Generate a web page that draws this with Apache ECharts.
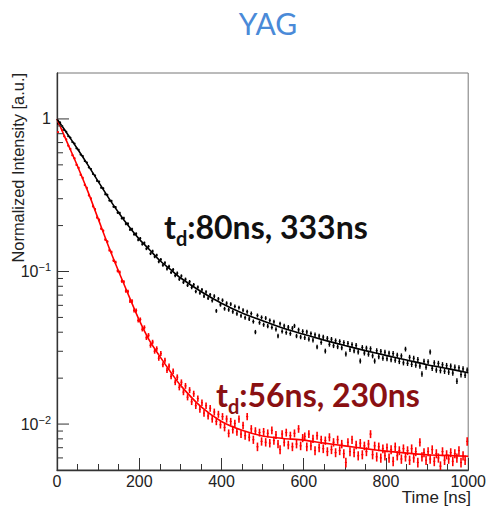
<!DOCTYPE html>
<html>
<head>
<meta charset="utf-8">
<script src="https://cdn.jsdelivr.net/npm/echarts@6/dist/echarts.min.js"></script>
<style>
  html, body { margin: 0; padding: 0; background: #fff; }
  #chart { width: 489px; height: 506px; }
</style>
</head>
<body>
<div id="chart"></div>
<script>
// Decay curves, 5 ns bins starting at t = 0
const binWidth = 5;

const blackCounts = [
  0.93, 0.95, 0.90, 0.846, 0.825, 0.770, 0.755, 0.705, 0.690, 0.641,
  0.628, 0.584, 0.571, 0.530, 0.518, 0.481, 0.470, 0.436, 0.426, 0.393,
  0.388, 0.354, 0.351, 0.321, 0.318, 0.292, 0.290, 0.266, 0.264, 0.243,
  0.242, 0.223, 0.224, 0.205, 0.206, 0.188, 0.190, 0.175, 0.177, 0.161,
  0.165, 0.151, 0.154, 0.141, 0.146, 0.131, 0.136, 0.125, 0.128, 0.116,
  0.120, 0.110, 0.114, 0.104, 0.108, 0.0985, 0.103, 0.0940, 0.0975, 0.0890,
  0.0935, 0.0850, 0.0890, 0.0812, 0.0858, 0.0785, 0.0820, 0.0740, 0.0790, 0.0722,
  0.0760, 0.0690, 0.0735, 0.0668, 0.0705, 0.0645, 0.0690, 0.0552, 0.0662, 0.0605,
  0.0648, 0.0570, 0.0620, 0.0561, 0.0612, 0.0545, 0.0590, 0.0528, 0.0580, 0.0512,
  0.0558, 0.0498, 0.0545, 0.0488, 0.0530, 0.0470, 0.0401, 0.0515, 0.0462, 0.0500,
  0.0448, 0.0495, 0.0438, 0.0478, 0.0430, 0.0468, 0.0418, 0.0378, 0.0455, 0.0405,
  0.0440, 0.0398, 0.0432, 0.0392, 0.0425, 0.0440, 0.0378, 0.0415, 0.0372, 0.0405,
  0.0368, 0.0402, 0.0360, 0.0392, 0.0355, 0.0385, 0.0320, 0.0378, 0.0343, 0.0372,
  0.0301, 0.0365, 0.0333, 0.0360, 0.0326, 0.0352, 0.0321, 0.0348, 0.0316, 0.0342,
  0.0288, 0.0338, 0.0308, 0.0332, 0.0302, 0.0328, 0.0297, 0.0259, 0.0318, 0.0292,
  0.0315, 0.0287, 0.0312, 0.0280, 0.0259, 0.0303, 0.0276, 0.0300, 0.0270, 0.0296,
  0.0268, 0.0292, 0.0264, 0.0290, 0.0262, 0.0283, 0.0257, 0.0280, 0.0252, 0.0310,
  0.0250, 0.0274, 0.0246, 0.0270, 0.0243, 0.0265, 0.0240, 0.0213, 0.0258, 0.0236,
  0.0256, 0.0297, 0.0232, 0.0252, 0.0226, 0.0250, 0.0224, 0.0245, 0.0222, 0.0242,
  0.0219, 0.0240, 0.0216, 0.0236, 0.0191, 0.0234, 0.0211, 0.0230, 0.0209, 0.0226
];

const redCounts = [
  0.82, 0.93, 0.845, 0.770, 0.735, 0.668, 0.636, 0.578, 0.552, 0.500,
  0.478, 0.430, 0.411, 0.369, 0.353, 0.316, 0.301, 0.268, 0.256, 0.226,
  0.218, 0.191, 0.185, 0.162, 0.157, 0.1380, 0.1340, 0.1180, 0.1150, 0.1010,
  0.0990, 0.0865, 0.0855, 0.0745, 0.0740, 0.0640, 0.0640, 0.0555, 0.0555, 0.0478,
  0.0485, 0.0418, 0.0430, 0.0368, 0.0382, 0.0328, 0.0345, 0.0300, 0.0312, 0.0270,
  0.0290, 0.0245, 0.0262, 0.0225, 0.0240, 0.0205, 0.0222, 0.0188, 0.0203, 0.0174,
  0.0188, 0.0162, 0.0178, 0.0150, 0.0167, 0.0140, 0.0158, 0.0132, 0.0147, 0.0125,
  0.0138, 0.0118, 0.0132, 0.0113, 0.0127, 0.0108, 0.0120, 0.0104, 0.0116, 0.0099,
  0.0112, 0.0095, 0.0108, 0.0087, 0.0104, 0.0092, 0.0101, 0.0089, 0.0108, 0.0086,
  0.0098, 0.0084, 0.0112, 0.0082, 0.0093, 0.0079, 0.0090, 0.0071, 0.0088, 0.0077,
  0.0089, 0.0076, 0.0087, 0.0075, 0.0091, 0.0078, 0.0085, 0.0074, 0.0068, 0.0086,
  0.0076, 0.0088, 0.0073, 0.0084, 0.0071, 0.0087, 0.0074, 0.0093, 0.0072, 0.0081,
  0.0083, 0.0071, 0.0086, 0.0072, 0.0080, 0.0067, 0.0084, 0.0070, 0.0079, 0.0069,
  0.0078, 0.0066, 0.0082, 0.0068, 0.0076, 0.0065, 0.0079, 0.0067, 0.0074, 0.0064,
  0.0056, 0.0076, 0.0066, 0.0079, 0.0065, 0.0073, 0.0062, 0.0075, 0.0063, 0.0072,
  0.0066, 0.0074, 0.0086, 0.0063, 0.0072, 0.0061, 0.0071, 0.0060, 0.0069, 0.0062,
  0.0070, 0.0060, 0.0068, 0.0057, 0.0071, 0.0062, 0.0067, 0.0059, 0.0069, 0.0061,
  0.0067, 0.0058, 0.0069, 0.0060, 0.0066, 0.0056, 0.0076, 0.0061, 0.0065, 0.0058,
  0.0066, 0.0059, 0.0068, 0.0057, 0.0064, 0.0060, 0.0053, 0.0066, 0.0058, 0.0063,
  0.0059, 0.0065, 0.0057, 0.0064, 0.0060, 0.0067, 0.0056, 0.0062, 0.0058, 0.0077
];

// Fitted double-exponential curves sampled at these times (ns)
const fitTimes = [0, 25, 50, 75, 100, 125, 150, 175, 200, 225, 250, 275, 300,
  350, 400, 450, 500, 550, 600, 650, 700, 750, 800, 850, 900, 950, 1000];
const blackFit = [1.00, 0.80, 0.635, 0.50, 0.39, 0.305, 0.243, 0.197, 0.163, 0.139, 0.118, 0.1036, 0.091,
  0.074, 0.062, 0.0535, 0.0475, 0.0425, 0.0388, 0.0355, 0.0327, 0.0303, 0.0282, 0.0263, 0.0245, 0.0231, 0.0217];
const redFit = [1.00, 0.70, 0.49, 0.335, 0.222, 0.147, 0.100, 0.069, 0.048, 0.0352, 0.0278, 0.0222, 0.0180,
  0.0130, 0.0104, 0.0091, 0.00835, 0.00805, 0.00785, 0.0075, 0.0072, 0.0069, 0.00665, 0.00645, 0.0063, 0.00622, 0.00615];

// Axis ticks
const yMajorTicks = [0.01, 0.1, 1];
const yMinorTicks = [0.006, 0.007, 0.008, 0.009,
  0.02, 0.03, 0.04, 0.05, 0.06, 0.07, 0.08, 0.09,
  0.2, 0.3, 0.4, 0.5, 0.6, 0.7, 0.8, 0.9];

const titleText = 'YAG';
const xAxisTitle = 'Time [ns]';
const yAxisTitle = 'Normalized Intensity [a.u.]';
const blackLabel = { main: 't', sub: 'd', text: ':80ns, 333ns' };
const redLabel = { main: 't', sub: 'd', text: ':56ns, 230ns' };

const axisFont = 'Liberation Sans, Arial, sans-serif';
const labelFont = 'Lato, sans-serif';

function binPoints(counts) {
  return counts.map((v, i) => [(i + 0.5) * binWidth, v]);
}

// Histogram-style marker: horizontal bin bar plus a Poisson-like vertical error bar
function errorBarRenderer(color, width) {
  return function (params, api) {
    const t = api.value(0);
    const v = api.value(1);
    const rel = 1 / Math.sqrt(v * 45000);
    const top = api.coord([t, v * (1 + rel)]);
    const bot = api.coord([t, v * (1 - rel)]);
    const l = api.coord([t - binWidth / 2, v]);
    const r = api.coord([t + binWidth / 2, v]);
    return {
      type: 'group',
      children: [
        { type: 'line', shape: { x1: top[0], y1: top[1] - 0.6, x2: bot[0], y2: bot[1] + 0.6 },
          style: { stroke: color, lineWidth: width } },
        { type: 'line', shape: { x1: l[0], y1: l[1], x2: r[0], y2: r[1] },
          style: { stroke: color, lineWidth: 1.2 } }
      ]
    };
  };
}

function tickRenderer(len) {
  return function (params, api) {
    const p = api.coord([0, api.value(1)]);
    return { type: 'line', shape: { x1: p[0], y1: p[1], x2: p[0] + len, y2: p[1] },
      style: { stroke: '#333', lineWidth: 1 } };
  };
}

// Text width helper for laying out the subscripted annotation pieces
const measureCtx = document.createElement('canvas').getContext('2d');
function textWidth(str, font) {
  measureCtx.font = font;
  return measureCtx.measureText(str).width;
}

function annotation(label, color, x, yMid) {
  const bigFont = 'bold 32px Lato';
  const smallFont = 'bold 20px Lato';
  const wMain = textWidth(label.main, bigFont);
  const wSub = textWidth(label.sub, smallFont);
  const common = { fill: color, fontFamily: labelFont, fontWeight: 'bold', verticalAlign: 'middle', align: 'left' };
  return {
    type: 'group', z: 100,
    children: [
      { type: 'text', x: x, y: yMid, style: Object.assign({ text: label.main, fontSize: 32 }, common) },
      { type: 'text', x: x + wMain, y: yMid + 12, style: Object.assign({ text: label.sub, fontSize: 20 }, common) },
      { type: 'text', x: x + wMain + wSub, y: yMid, style: Object.assign({ text: label.text, fontSize: 32 }, common) }
    ]
  };
}

function render() {
  const chart = echarts.init(document.getElementById('chart'), null, { renderer: 'svg' });

  chart.setOption({
    animation: false,
    backgroundColor: '#fff',
    grid: { left: 57, right: 18, top: 73, bottom: 36, show: true, borderColor: '#777', borderWidth: 1 },
    xAxis: {
      type: 'value', min: 0, max: 1000, interval: 200,
      axisLine: { show: true, onZero: false, lineStyle: { color: '#333', width: 1.3 } },
      axisTick: { show: true, inside: true, length: 12, lineStyle: { color: '#333' } },
      minorTick: { show: true, splitNumber: 4, length: 6, lineStyle: { color: '#333' } },
      splitLine: { show: false },
      axisLabel: { color: '#222', fontSize: 16, margin: 3, fontFamily: axisFont,
        formatter: function (v) { return String(v); } }
    },
    yAxis: {
      type: 'log', logBase: 10, min: 0.005, max: 2,
      axisLine: { show: true, onZero: false, lineStyle: { color: '#333', width: 1.3 } },
      axisTick: { show: false },
      splitLine: { show: false },
      axisLabel: {
        margin: 6, color: '#222', fontFamily: axisFont,
        formatter: function (v) {
          const lg = Math.log10(v);
          const e = Math.round(lg);
          if (Math.abs(lg - e) > 1e-6) return '';
          if (e === 0) return '{b|1}';
          return '{b|10}{s|\u2212' + (-e) + '}';
        },
        rich: {
          b: { fontSize: 16, lineHeight: 20, fontFamily: axisFont, color: '#222' },
          s: { fontSize: 11, lineHeight: 10, verticalAlign: 'top', fontFamily: axisFont, color: '#222' }
        }
      }
    },
    graphic: [
      { type: 'text', z: 100, x: 268, y: 23,
        style: { text: titleText, fontFamily: labelFont, fontSize: 30, fill: '#4a8ad8',
          align: 'center', verticalAlign: 'middle' } },
      { type: 'text', z: 100, rotation: Math.PI / 2, x: 18, y: 73,
        style: { text: yAxisTitle, fontFamily: axisFont, fontSize: 16.4, fill: '#222', align: 'right', verticalAlign: 'middle' } },
      { type: 'text', z: 100, x: 471, y: 497,
        style: { text: xAxisTitle, fontFamily: axisFont, fontSize: 17, fill: '#222', align: 'right', verticalAlign: 'middle' } },
      annotation(blackLabel, '#111', 164, 226),
      annotation(redLabel, '#8a1012', 216, 394)
    ],
    series: [
      { type: 'custom', name: 'yMajor', data: yMajorTicks.map(v => [0, v]), encode: { x: 0, y: 1 },
        renderItem: tickRenderer(12), z: 5, silent: true },
      { type: 'custom', name: 'yMinor', data: yMinorTicks.map(v => [0, v]), encode: { x: 0, y: 1 },
        renderItem: tickRenderer(6), z: 5, silent: true },
      { type: 'custom', name: 'red data', data: binPoints(redCounts), encode: { x: 0, y: 1 },
        renderItem: errorBarRenderer('#ff0000', 1.6), clip: true, z: 2 },
      { type: 'custom', name: 'black data', data: binPoints(blackCounts), encode: { x: 0, y: 1 },
        renderItem: errorBarRenderer('#000000', 1.4), clip: true, z: 3 },
      { type: 'line', name: 'red fit', data: fitTimes.map((t, i) => [t, redFit[i]]),
        smooth: 0.3, showSymbol: false, lineStyle: { color: '#ff0000', width: 1.6 }, z: 4 },
      { type: 'line', name: 'black fit', data: fitTimes.map((t, i) => [t, blackFit[i]]),
        smooth: 0.3, showSymbol: false, lineStyle: { color: '#000000', width: 1.6 }, z: 4 }
    ]
  });
}

if (document.fonts && document.fonts.load) {
  Promise.all([document.fonts.load('bold 32px Lato'), document.fonts.load('30px Lato')])
    .then(render, render);
} else {
  render();
}
</script>
</body>
</html>
